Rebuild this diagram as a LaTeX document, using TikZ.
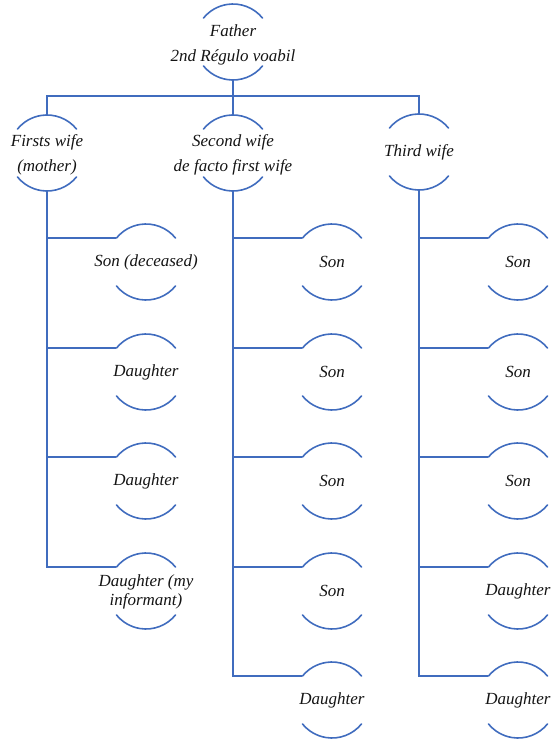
\documentclass[tikz,border=0pt]{standalone}
\usepackage{fontspec}
\setmainfont{Liberation Serif}
\definecolor{lineblue}{RGB}{64,108,190}
\definecolor{txtgray}{RGB}{20,20,20}
\newcommand\arcsof[1]{%
  \draw[arcline] (#1.39) arc[start angle=39,end angle=141,radius=38pt];
  \draw[arcline] (#1.-39) arc[start angle=-39,end angle=-141,radius=38pt];}
\begin{document}
\begin{tikzpicture}[x=1pt,y=1pt,
  person/.style={circle, minimum size=76pt, inner sep=0pt, outer sep=0pt, draw=none},
  lbl/.style={font=\fontsize{17}{25}\selectfont\itshape, text=txtgray, align=center, inner sep=0pt},
  tight/.style={font=\fontsize{17}{19}\selectfont\itshape},
  conn/.style={draw=lineblue, line width=1.6pt},
  arcline/.style={draw=lineblue, line width=1.6pt, line cap=round}]
\useasboundingbox (0,0) rectangle (553,-742);

% people (circles)
\node[person] (f)  at (233,-42) {};
\node[person] (w1) at (47,-153) {};
\node[person] (w2) at (233,-153) {};
\node[person] (w3) at (419,-152) {};

\node[person] (a1) at (146,-262) {};
\node[person] (a2) at (146,-372) {};
\node[person] (a3) at (146,-481) {};
\node[person] (a4) at (146,-591) {};

\node[person] (b1) at (332,-262) {};
\node[person] (b2) at (332,-372) {};
\node[person] (b3) at (332,-481) {};
\node[person] (b4) at (332,-591) {};
\node[person] (b5) at (332,-700) {};

\node[person] (c1) at (518,-262) {};
\node[person] (c2) at (518,-372) {};
\node[person] (c3) at (518,-481) {};
\node[person] (c4) at (518,-591) {};
\node[person] (c5) at (518,-700) {};

% arcs
\foreach \n in {f,w1,w2,w3,a1,a2,a3,a4,b1,b2,b3,b4,b5,c1,c2,c3,c4,c5}{\arcsof{\n}}

% labels
\node[lbl] (tf)  at ([yshift=-2.5pt]f)  {Father\\2nd Régulo voabil};
\node[lbl] (tw1) at ([yshift=-1.5pt]w1) {Firsts wife\\(mother)};
\node[lbl] (tw2) at ([yshift=-1.5pt]w2) {Second wife\\de facto first wife};
\node[lbl] (tw3) at (w3) {Third wife};

\node[lbl] (ta1) at (a1) {Son (deceased)};
\node[lbl] (ta2) at (a2) {Daughter};
\node[lbl] (ta3) at (a3) {Daughter};
\node[lbl,tight] (ta4) at ([yshift=-1pt]a4) {Daughter (my\\informant)};

\node[lbl] (tb1) at (b1) {Son};
\node[lbl] (tb2) at (b2) {Son};
\node[lbl] (tb3) at (b3) {Son};
\node[lbl] (tb4) at (b4) {Son};
\node[lbl] (tb5) at (b5) {Daughter};

\node[lbl] (tc1) at (c1) {Son};
\node[lbl] (tc2) at (c2) {Son};
\node[lbl] (tc3) at (c3) {Son};
\node[lbl] (tc4) at (c4) {Daughter};
\node[lbl] (tc5) at (c5) {Daughter};

% connectors
\coordinate (bus) at (233,-96);
\draw[conn] (f.south) -- (bus);
\draw[conn] (w1.north) |- (bus) -| (w3.north);
\draw[conn] (bus) -- (w2.north);

\draw[conn] (w1.south) |- (a4.141);
\foreach \k in {a1,a2,a3}{\draw[conn] (\k.141 -| w1.south) -- (\k.141);}
\draw[conn] (w2.south) |- (b5.141);
\foreach \k in {b1,b2,b3,b4}{\draw[conn] (\k.141 -| w2.south) -- (\k.141);}
\draw[conn] (w3.south) |- (c5.141);
\foreach \k in {c1,c2,c3,c4}{\draw[conn] (\k.141 -| w3.south) -- (\k.141);}
\end{tikzpicture}
\end{document}
